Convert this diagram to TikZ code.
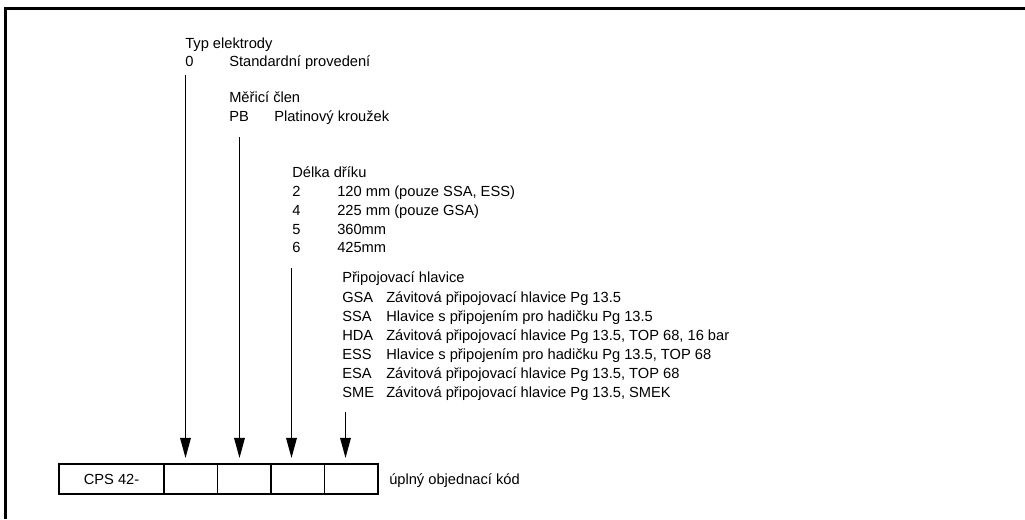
\documentclass[tikz,border=0pt]{standalone}
\usepackage{fontspec}
\setmainfont{Liberation Sans}
\usetikzlibrary{arrows.meta}
\begin{document}
\begin{tikzpicture}[x=0.75pt,y=-0.75pt,
  lbl/.style={anchor=base west,inner sep=0pt,font=\fontsize{11}{13}\selectfont},
  cell/.style={draw,line width=1.1pt,minimum height=22.5pt,minimum width=40.1pt,inner sep=0pt,font=\fontsize{11}{13}\selectfont},
  arr/.style={line width=0.8pt,-{Triangle[length=15pt,width=8pt]},shorten >=4pt},
  frame/.style={line width=2.25pt}]
\useasboundingbox (0,0) rectangle (1025,519);
\draw[frame] (5.5,519) -- (5.5,8) -- (1025,8);

% group 1
\node[lbl] (t1) at (185,48) {Typ elektrody};
\node[lbl] (k1) at (185,66) {0};
\node[lbl] (v1) at (229,66) {Standardní provedení};
% group 2
\node[lbl] (t2) at (229,102) {Měřicí člen};
\node[lbl] (k2) at (229,121) {PB};
\node[lbl] (v2) at (274,121) {Platinový kroužek};
% group 3
\node[lbl] (t3) at (292,177) {Délka dříku};
\node[lbl] (k31) at (292,196) {2};
\node[lbl] (v31) at (337,196) {120 mm (pouze SSA, ESS)};
\node[lbl] (k32) at (292,215) {4};
\node[lbl] (v32) at (337,215) {225 mm (pouze GSA)};
\node[lbl] (k33) at (292,234) {5};
\node[lbl] (v33) at (337,234) {360mm};
\node[lbl] (k34) at (292,252) {6};
\node[lbl] (v34) at (337,252) {425mm};
% group 4
\node[lbl] (t4) at (342,282) {Připojovací hlavice};
\node[lbl] (k41) at (342,302) {GSA};
\node[lbl] (v41) at (386,302) {Závitová připojovací hlavice Pg 13.5};
\node[lbl] (k42) at (342,321) {SSA};
\node[lbl] (v42) at (386,321) {Hlavice s připojením pro hadičku Pg 13.5};
\node[lbl] (k43) at (342,340) {HDA};
\node[lbl] (v43) at (386,340) {Závitová připojovací hlavice Pg 13.5, TOP 68, 16 bar};
\node[lbl] (k44) at (342,359) {ESS};
\node[lbl] (v44) at (386,359) {Hlavice s připojením pro hadičku Pg 13.5, TOP 68};
\node[lbl] (k45) at (342,378) {ESA};
\node[lbl] (v45) at (386,378) {Závitová připojovací hlavice Pg 13.5, TOP 68};
\node[lbl] (k46) at (342,397) {SME};
\node[lbl] (v46) at (386,397) {Závitová připojovací hlavice Pg 13.5, SMEK};

% code boxes
\node[cell,minimum width=78.75pt] (c0) at (111.5,479) {CPS 42-};
\node[cell] (c1) at (190.75,479) {};
\node[cell] (c2) at (244.25,479) {};
\node[cell] (c3) at (297.75,479) {};
\node[cell] (c4) at (351.25,479) {};
\node[lbl] (full) at (389,484) {úplný objednací kód};

% arrows
\coordinate (a1) at (185.5,75);
\coordinate (a2) at (239.5,137);
\coordinate (a3) at (291.5,268);
\coordinate (a4) at (345.5,412);
\draw[arr] (a1) -- (a1 |- c1.north);
\draw[arr] (a2) -- (a2 |- c2.north);
\draw[arr] (a3) -- (a3 |- c3.north);
\draw[arr] (a4) -- (a4 |- c4.north);
\end{tikzpicture}
\end{document}
